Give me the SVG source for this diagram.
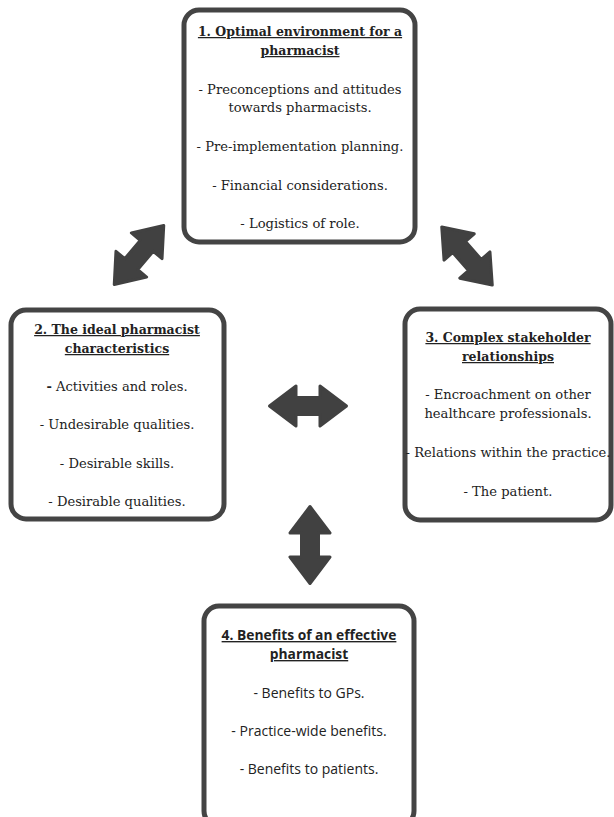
<svg xmlns="http://www.w3.org/2000/svg" width="614" height="817" viewBox="0 0 614 817">
<style>
.box{fill:#fff;stroke:#444;stroke-width:5}
.t{font-family:"DejaVu Serif","Liberation Serif",serif;font-size:13.1px;fill:#222;text-anchor:middle}
.s{font-family:"Open Sans","Liberation Sans",sans-serif;font-size:14px;fill:#222;text-anchor:middle}
.t.h{font-size:12.5px;font-weight:bold;text-decoration:underline}
.s.h{font-size:13.8px;font-weight:bold;text-decoration:underline}
.arr{fill:#414141;stroke:#414141;stroke-width:3;stroke-linejoin:round}
</style>
<defs>
<path id="dbl" d="M -38.5 0 L -12 -20 L -12 -8.5 L 12 -8.5 L 12 -20 L 38.5 0 L 12 20 L 12 8.5 L -12 8.5 L -12 20 Z"/>
</defs>
<rect width="614" height="817" fill="#fff"/>
<g id="connectors">
<use href="#dbl" class="arr" transform="translate(139,255) rotate(-50)"/>
<use href="#dbl" class="arr" transform="translate(467,256) rotate(49)"/>
<use href="#dbl" class="arr" transform="translate(308,406)"/>
<use href="#dbl" class="arr" transform="translate(310,545) rotate(90)"/>
</g>
<g id="node1">
<rect class="box" x="184" y="10" width="231" height="232" rx="15"/>
<text class="t h" x="300" y="36">1. Optimal environment for a</text>
<text class="t h" x="300" y="55">pharmacist</text>
<text class="t" x="300" y="94">- Preconceptions and attitudes</text>
<text class="t" x="300" y="112">towards pharmacists.</text>
<text class="t" x="300" y="151">- Pre-implementation planning.</text>
<text class="t" x="300" y="190">- Financial considerations.</text>
<text class="t" x="300" y="228">- Logistics of role.</text>
</g>
<g id="node2">
<rect class="box" x="11" y="310" width="213" height="209" rx="15"/>
<text class="t h" x="117" y="334">2. The ideal pharmacist</text>
<text class="t h" x="117" y="353">characteristics</text>
<text class="t" x="117" y="391"><tspan font-weight="bold">-</tspan> Activities and roles.</text>
<text class="t" x="117" y="429">- Undesirable qualities.</text>
<text class="t" x="117" y="468">- Desirable skills.</text>
<text class="t" x="117" y="506">- Desirable qualities.</text>
</g>
<g id="node3">
<rect class="box" x="405" y="309" width="206" height="211" rx="15"/>
<text class="t h" x="508" y="342">3. Complex stakeholder</text>
<text class="t h" x="508" y="361">relationships</text>
<text class="t" x="508" y="399">- Encroachment on other</text>
<text class="t" x="508" y="418">healthcare professionals.</text>
<text class="t" x="508" y="457">- Relations within the practice.</text>
<text class="t" x="508" y="496">- The patient.</text>
</g>
<g id="node4">
<rect class="box" x="204" y="606" width="210" height="220" rx="15"/>
<text class="s h" x="309" y="640">4. Benefits of an effective</text>
<text class="s h" x="309" y="659">pharmacist</text>
<text class="s" x="309" y="698">- Benefits to GPs.</text>
<text class="s" x="309" y="736">- Practice-wide benefits.</text>
<text class="s" x="309" y="774">- Benefits to patients.</text>
</g>
</svg>
